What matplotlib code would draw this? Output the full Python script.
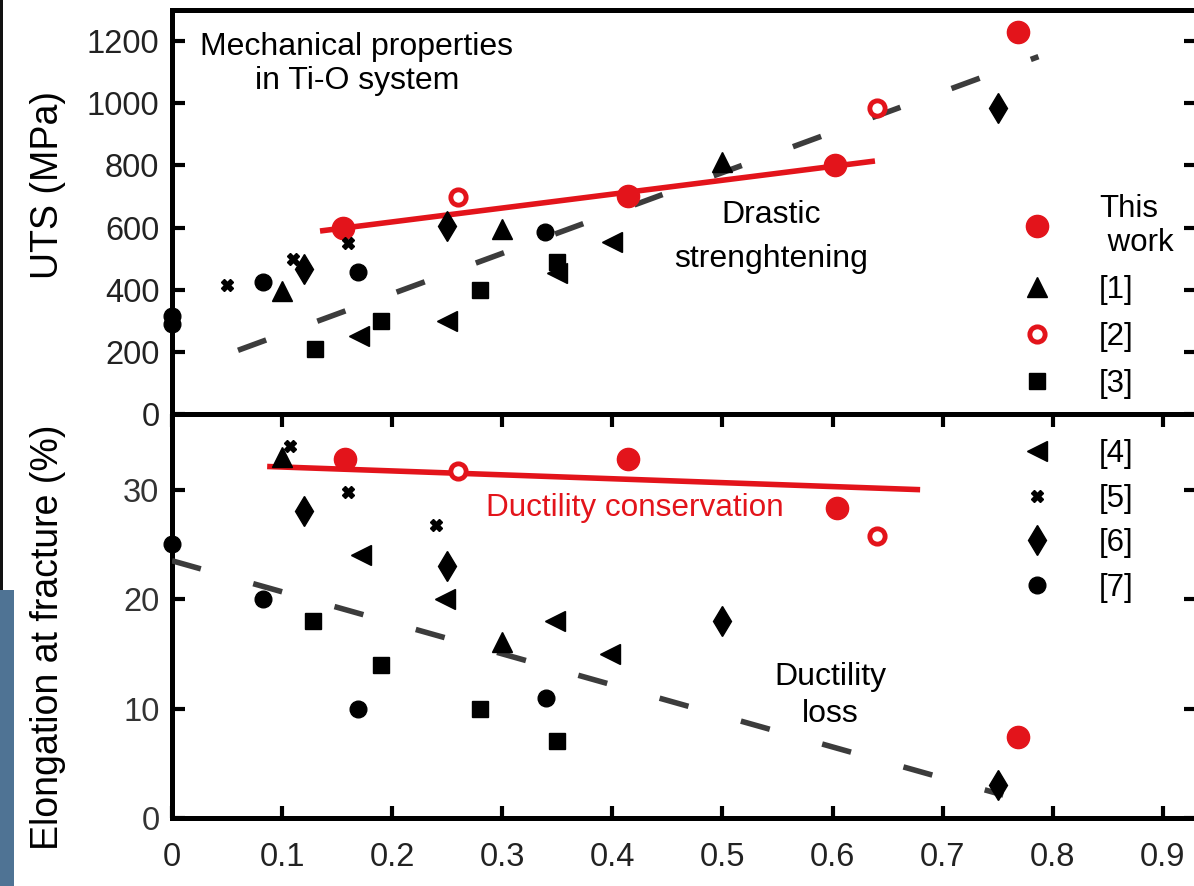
import matplotlib
matplotlib.use("Agg")
import matplotlib.pyplot as plt
from matplotlib.lines import Line2D
from matplotlib.patches import Rectangle

plt.rcParams['font.family'] = ['Liberation Sans', 'DejaVu Sans']

RED = '#e3141b'
GRAY = '#3c3c3c'

# ---- top panel: UTS (MPa) ----
tw_x_uts = [0.155, 0.414, 0.602, 0.768]
tw_uts = [600, 700, 800, 1230]
r1_x_uts = [0.10, 0.30, 0.50]
r1_uts = [395, 595, 810]
r2_x_uts = [0.26, 0.64]
r2_uts = [697, 985]
r3_x_uts = [0.13, 0.19, 0.28, 0.35]
r3_uts = [210, 300, 400, 490]
r4_x_uts = [0.17, 0.25, 0.35, 0.40]
r4_uts = [250, 300, 455, 555]
r5_x_uts = [0.05, 0.11, 0.16]
r5_uts = [415, 500, 550]
r6_x_uts = [0.12, 0.25, 0.75]
r6_uts = [468, 606, 984]
r7_x_uts = [0.0, 0.0, 0.083, 0.169, 0.339]
r7_uts = [290, 315, 425, 458, 587]

# trend lines (top)
red_fit_x_uts = [0.137, 0.636]
red_fit_uts = [590, 813]
gray_fit_x_uts = [0.06, 0.787]
gray_fit_uts = [205, 1150]

# ---- bottom panel: elongation at fracture (%) ----
tw_x_el = [0.157, 0.414, 0.604, 0.768]
tw_el = [32.8, 32.8, 28.3, 7.4]
r1_x_el = [0.10, 0.30]
r1_el = [33.0, 16.1]
r2_x_el = [0.26, 0.64]
r2_el = [31.7, 25.8]
r3_x_el = [0.128, 0.19, 0.28, 0.35]
r3_el = [18, 14, 10, 7]
r4_x_el = [0.172, 0.248, 0.348, 0.398]
r4_el = [24, 20, 18, 15]
r5_x_el = [0.107, 0.16, 0.24]
r5_el = [34, 29.8, 26.8]
r6_x_el = [0.12, 0.25, 0.50, 0.75]
r6_el = [28, 23, 18, 3]
r7_x_el = [0.0, 0.083, 0.169, 0.34]
r7_el = [25, 20, 10, 11]

red_fit_x_el = [0.089, 0.677]
red_fit_el = [32.1, 30.0]
gray_fit_x_el = [0.0, 0.755]
gray_fit_el = [23.5, 2.1]

x_ticks = [0, 0.1, 0.2, 0.3, 0.4, 0.5, 0.6, 0.7, 0.8, 0.9]
x_tick_labels = ['0', '0.1', '0.2', '0.3', '0.4', '0.5', '0.6', '0.7', '0.8', '0.9']
uts_ticks = [0, 200, 400, 600, 800, 1000, 1200]
el_ticks = [0, 10, 20, 30]

# marker styles for each data set
styles = {
    'This\n work': dict(marker='o', ms=16, color=RED, mec=RED),
    '[1]': dict(marker='^', ms=15, color='k', mec='k'),
    '[2]': dict(marker='o', ms=11, color='white', mec=RED, mew=3.5),
    '[3]': dict(marker='s', ms=11, color='k', mec='k'),
    '[4]': dict(marker='<', ms=15, color='k', mec='k'),
    '[5]': dict(marker='X', ms=9, color='k', mec='k'),
    '[6]': dict(marker='d', ms=15, color='k', mec='k'),
    '[7]': dict(marker='o', ms=12, color='k', mec='k'),
}

fig = plt.figure(figsize=(11.94, 8.86), dpi=100)
ax1 = fig.add_axes([0.144, 0.5327, 0.8576, 0.4560])
ax2 = fig.add_axes([0.144, 0.0767, 0.8576, 0.4560])

dash = (0, (5.4, 9.8))

# top panel
ax1.plot(gray_fit_x_uts, gray_fit_uts, color=GRAY, lw=4, ls=dash, zorder=4)
ax1.plot(red_fit_x_uts, red_fit_uts, color=RED, lw=4, zorder=3)
top_sets = [('This\n work', tw_x_uts, tw_uts), ('[1]', r1_x_uts, r1_uts),
            ('[2]', r2_x_uts, r2_uts), ('[3]', r3_x_uts, r3_uts),
            ('[4]', r4_x_uts, r4_uts), ('[5]', r5_x_uts, r5_uts),
            ('[6]', r6_x_uts, r6_uts), ('[7]', r7_x_uts, r7_uts)]
for name, xs, ys in top_sets:
    st = styles[name]
    ax1.plot(xs, ys, ls='none', marker=st['marker'], ms=st['ms'],
             mfc=st['color'], mec=st['mec'], mew=st.get('mew', 1),
             zorder=5, clip_on=False)

# bottom panel
ax2.plot(gray_fit_x_el, gray_fit_el, color=GRAY, lw=4, ls=dash, zorder=4)
ax2.plot(red_fit_x_el, red_fit_el, color=RED, lw=4, zorder=3)
bot_sets = [('This\n work', tw_x_el, tw_el), ('[1]', r1_x_el, r1_el),
            ('[2]', r2_x_el, r2_el), ('[3]', r3_x_el, r3_el),
            ('[4]', r4_x_el, r4_el), ('[5]', r5_x_el, r5_el),
            ('[6]', r6_x_el, r6_el), ('[7]', r7_x_el, r7_el)]
for name, xs, ys in bot_sets:
    st = styles[name]
    ax2.plot(xs, ys, ls='none', marker=st['marker'], ms=st['ms'],
             mfc=st['color'], mec=st['mec'], mew=st.get('mew', 1),
             zorder=5, clip_on=False)

for ax in (ax1, ax2):
    ax.set_xlim(0, 0.930)
    for s in ax.spines.values():
        s.set_linewidth(3.6)
    ax.tick_params(direction='in', length=9, width=3, labelsize=23.5,
                   labelcolor='#222222', right=True, pad=9)

ax1.set_ylim(0, 1300)
ax1.set_yticks(uts_ticks)
ax1.tick_params(axis='x', bottom=False, top=False, labelbottom=False)
ax1.set_ylabel('UTS (MPa)', fontsize=27)

ax2.set_ylim(0, 36.9)
ax2.set_yticks(el_ticks)
ax2.set_xticks(x_ticks)
ax2.set_xticklabels(x_tick_labels)
ax2.tick_params(axis='x', top=True, pad=17)
ax2.tick_params(axis='y', labelcolor='#333333')
ax2.set_ylabel('Elongation at fracture (%)', fontsize=27)
ax1.yaxis.set_label_coords(-0.103, 0.567)
ax2.yaxis.set_label_coords(-0.103, 0.448)

# annotations
ax1.text(0.168, 1126, 'Mechanical properties\nin Ti-O system', ha='center',
         va='center', fontsize=23, linespacing=1.2)
ax1.text(0.544, 570, 'Drastic\nstrenghtening', ha='center', va='center',
         fontsize=23, linespacing=1.6)
ax2.text(0.42, 28.3, 'Ductility conservation', ha='center', va='center',
         fontsize=22.7, color=RED)
ax2.text(0.598, 11.2, 'Ductility\nloss', ha='center', va='center',
         fontsize=23, linespacing=1.3)

# legends
def handle(name):
    st = styles[name]
    return Line2D([], [], ls='none', marker=st['marker'], ms=st['ms'],
                  mfc=st['color'], mec=st['mec'], mew=st.get('mew', 1))

top_names = ['This\n work', '[1]', '[2]', '[3]']
bot_names = ['[4]', '[5]', '[6]', '[7]']
leg1 = ax1.legend([handle(n) for n in top_names], top_names, loc='lower left',
                  bbox_to_anchor=(0.794, -0.032), frameon=False, fontsize=22.5,
                  handletextpad=1.25, labelspacing=0.54, handlelength=1.5)
leg2 = ax2.legend([handle(n) for n in bot_names], bot_names, loc='upper left',
                  bbox_to_anchor=(0.794, 1.008), frameon=False, fontsize=22.5,
                  handletextpad=1.25, labelspacing=0.47, handlelength=1.5)

# left edge decoration
fig.add_artist(Rectangle((0, 0), 14 / 1194, 296 / 886, transform=fig.transFigure,
                         color='#4f7394', lw=0))
fig.add_artist(Rectangle((0, 296 / 886), 3 / 1194, 590 / 886,
                         transform=fig.transFigure, color='#111111', lw=0))

fig.savefig('out.png', dpi=100)
